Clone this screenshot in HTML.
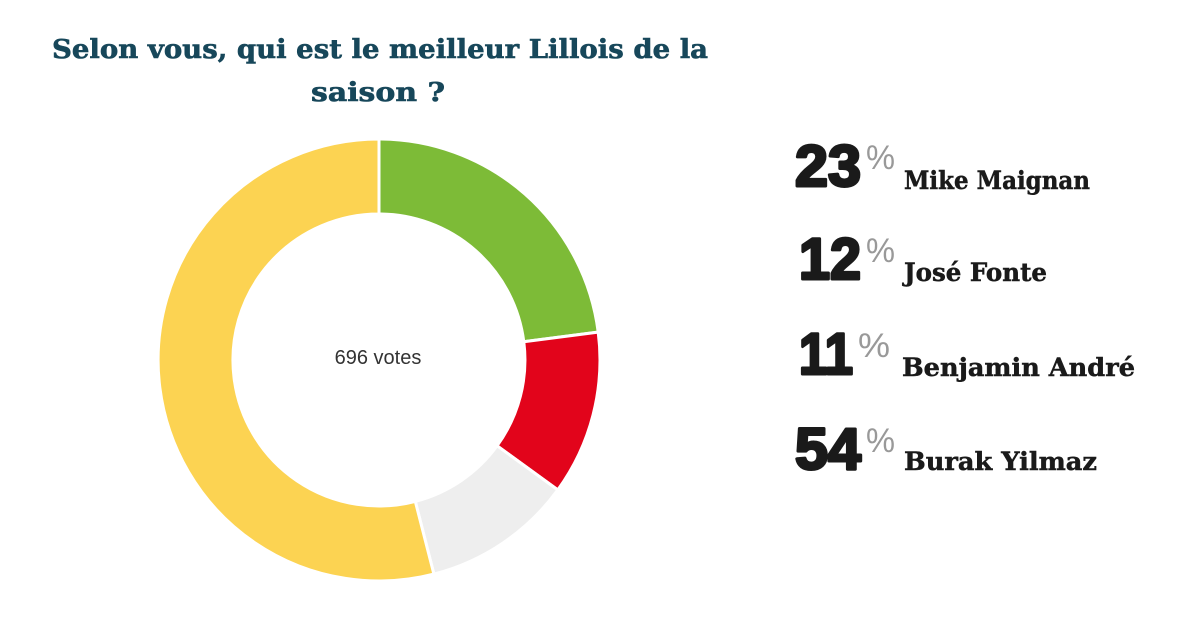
<!DOCTYPE html>
<html><head><meta charset="utf-8"><style>
html,body{margin:0;padding:0;background:#fff;}
svg{display:block;}
</style></head><body>
<svg width="1200" height="637" viewBox="0 0 1200 637" xmlns="http://www.w3.org/2000/svg">
<rect width="1200" height="637" fill="#fff"/>
<g font-family="DejaVu Serif, Liberation Serif, serif" font-weight="bold" fill="#17475a" stroke="#17475a" stroke-width="0.6" font-size="26">
<text x="52" y="58" textLength="656" lengthAdjust="spacingAndGlyphs">Selon vous, qui est le meilleur Lillois de la</text>
<text x="311" y="101" textLength="134" lengthAdjust="spacingAndGlyphs">saison ?</text>
</g>
<g stroke="#fff" stroke-width="3">
<path d="M379,139 A221,221 0 0 1 598.2,332.1 L523.8,341.7 A146,146 0 0 0 379,214 Z" fill="#7dbb37"/>
<path d="M598.2,332.1 A221,221 0 0 1 557.8,489.9 L497.1,445.8 A146,146 0 0 0 523.8,341.7 Z" fill="#e2041b"/>
<path d="M557.8,489.9 A221,221 0 0 1 433.9,574.1 L415.3,501.4 A146,146 0 0 0 497.1,445.8 Z" fill="#eeeeee"/>
<path d="M433.9,574.1 A221,221 0 1 1 379,139 L379,214 A146,146 0 1 0 415.3,501.4 Z" fill="#fcd352"/>
</g>
<text x="378" y="364" text-anchor="middle" font-family="Liberation Sans, sans-serif" font-size="20" fill="#333">696 votes</text>
<g font-family="Liberation Sans, sans-serif" font-weight="bold" fill="#1a1a1a" stroke="#1a1a1a" stroke-width="3" stroke-linejoin="round" font-size="58">
<text x="795" y="186" textLength="66" lengthAdjust="spacingAndGlyphs">23</text>
<text x="799" y="279" textLength="62" lengthAdjust="spacingAndGlyphs">12</text>
<text x="799" y="374" textLength="54" lengthAdjust="spacingAndGlyphs">11</text>
<text x="795" y="469" textLength="66" lengthAdjust="spacingAndGlyphs">54</text>
</g>
<g font-family="Liberation Sans, sans-serif" fill="#999" font-size="34">
<text x="866" y="169" textLength="29" lengthAdjust="spacingAndGlyphs">%</text>
<text x="866" y="262" textLength="29" lengthAdjust="spacingAndGlyphs">%</text>
<text x="858" y="357" textLength="32" lengthAdjust="spacingAndGlyphs">%</text>
<text x="866" y="452" textLength="29" lengthAdjust="spacingAndGlyphs">%</text>
</g>
<g font-family="DejaVu Serif, Liberation Serif, serif" font-weight="bold" fill="#1a1a1a" stroke="#1a1a1a" stroke-width="0.5" font-size="25">
<text x="904" y="189" textLength="186" lengthAdjust="spacingAndGlyphs">Mike Maignan</text>
<text x="904" y="281" textLength="143" lengthAdjust="spacingAndGlyphs">José Fonte</text>
<text x="902" y="376" textLength="233" lengthAdjust="spacingAndGlyphs">Benjamin André</text>
<text x="904" y="470" textLength="193" lengthAdjust="spacingAndGlyphs">Burak Yilmaz</text>
</g>
</svg>
</body></html>
